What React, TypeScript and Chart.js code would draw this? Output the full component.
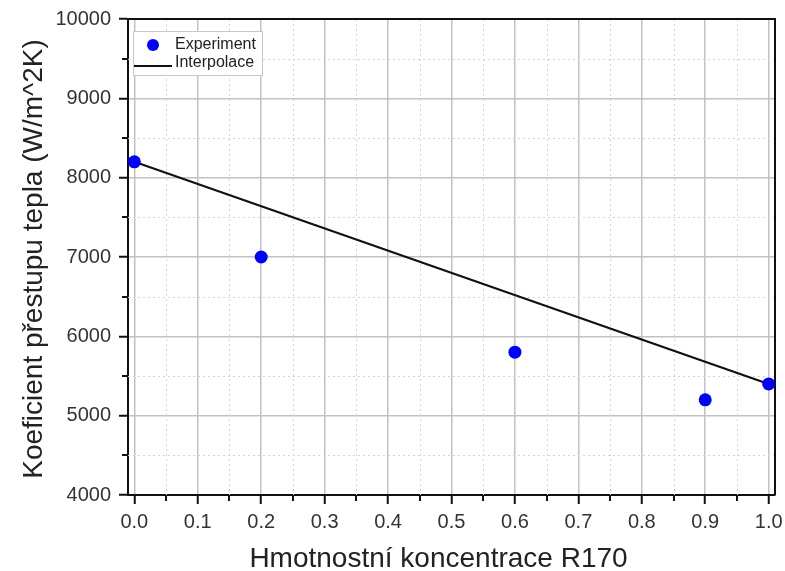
import React, { useEffect, useRef } from "react";
import { Chart, registerables } from "chart.js";

Chart.register(...registerables);

// ---- data ----
const experimentX = [0.0, 0.2, 0.6, 0.9, 1.0];
const experimentY = [8200, 7000, 5800, 5200, 5400];
const interpX = [0.0, 1.0];
const interpY = [8200, 5400];
const seriesLabels = ["Experiment", "Interpolace"];

const xMajorTicks = [0.0, 0.1, 0.2, 0.3, 0.4, 0.5, 0.6, 0.7, 0.8, 0.9, 1.0];
const xMinorTicks = [0.05, 0.15, 0.25, 0.35, 0.45, 0.55, 0.65, 0.75, 0.85, 0.95];
const yMajorTicks = [4000, 5000, 6000, 7000, 8000, 9000, 10000];
const yMinorTicks = [4500, 5500, 6500, 7500, 8500, 9500];

const xTitle = "Hmotnostní koncentrace R170";
const yTitle = "Koeficient přestupu tepla (W/m^2K)";

const FONT = '"Liberation Sans", Arial, Helvetica, sans-serif';

const minorGridPlugin = {
  id: "minorGrid",
  beforeDatasetsDraw(chart: any) {
    const { ctx, chartArea } = chart;
    const xs = chart.scales.x;
    const ys = chart.scales.y;
    ctx.save();
    // dotted minor grid lines
    ctx.strokeStyle = "#d4d4d4";
    ctx.lineWidth = 1;
    ctx.setLineDash([2, 3]);
    xMinorTicks.forEach((v) => {
      const px = Math.round(xs.getPixelForValue(v)) + 0.5;
      ctx.beginPath();
      ctx.moveTo(px, chartArea.top);
      ctx.lineTo(px, chartArea.bottom);
      ctx.stroke();
    });
    yMinorTicks.forEach((v) => {
      const py = Math.round(ys.getPixelForValue(v)) + 0.5;
      ctx.beginPath();
      ctx.moveTo(chartArea.left, py);
      ctx.lineTo(chartArea.right, py);
      ctx.stroke();
    });
    ctx.setLineDash([]);
    // minor tick marks
    ctx.strokeStyle = "#111";
    ctx.lineWidth = 2;
    xMinorTicks.forEach((v) => {
      const px = Math.round(xs.getPixelForValue(v));
      ctx.beginPath();
      ctx.moveTo(px, chartArea.bottom);
      ctx.lineTo(px, chartArea.bottom + 6);
      ctx.stroke();
    });
    yMinorTicks.forEach((v) => {
      const py = Math.round(ys.getPixelForValue(v));
      ctx.beginPath();
      ctx.moveTo(chartArea.left, py);
      ctx.lineTo(chartArea.left - 6, py);
      ctx.stroke();
    });
    // frame top & right
    ctx.beginPath();
    ctx.moveTo(chartArea.left, chartArea.top);
    ctx.lineTo(chartArea.right, chartArea.top);
    ctx.lineTo(chartArea.right, chartArea.bottom);
    ctx.stroke();
    ctx.restore();
  },
};

const legendPlugin = {
  id: "boxLegend",
  afterDatasetsDraw(chart: any) {
    const { ctx, chartArea } = chart;
    const l = chartArea.left;
    const t = chartArea.top;
    ctx.save();
    ctx.fillStyle = "#ffffff";
    ctx.fillRect(l + 5, t + 12, 129, 44);
    ctx.strokeStyle = "#c8c8c8";
    ctx.lineWidth = 1;
    ctx.strokeRect(l + 5.5, t + 12.5, 129, 44);
    ctx.fillStyle = "#0000ff";
    ctx.beginPath();
    ctx.arc(l + 25, t + 26, 6, 0, Math.PI * 2);
    ctx.fill();
    ctx.strokeStyle = "#111";
    ctx.lineWidth = 2;
    ctx.beginPath();
    ctx.moveTo(l + 6, t + 47);
    ctx.lineTo(l + 44, t + 47);
    ctx.stroke();
    ctx.fillStyle = "#222";
    ctx.font = `16px ${FONT}`;
    ctx.textAlign = "left";
    ctx.textBaseline = "middle";
    ctx.fillText(seriesLabels[0], l + 47, t + 26);
    ctx.fillText(seriesLabels[1], l + 47, t + 44);
    ctx.restore();
  },
};

const titlesPlugin = {
  id: "axisTitles",
  afterDraw(chart: any) {
    const { ctx, chartArea } = chart;
    ctx.save();
    ctx.fillStyle = "#222";
    ctx.font = `28px ${FONT}`;
    ctx.textAlign = "center";
    ctx.textBaseline = "alphabetic";
    ctx.fillText(xTitle, (chartArea.left + chartArea.right) / 2 - 13, chartArea.bottom + 72);
    ctx.translate(42, (chartArea.top + chartArea.bottom) / 2 + 2);
    ctx.rotate(-Math.PI / 2);
    ctx.fillText(yTitle, 0, 0);
    ctx.restore();
  },
};

export default function App() {
  const canvasRef = useRef<HTMLCanvasElement | null>(null);

  useEffect(() => {
    document.body.style.margin = "0";
    const canvas = canvasRef.current;
    if (!canvas) return;
    const chart = new Chart(canvas, {
      type: "scatter",
      data: {
        datasets: [
          {
            label: seriesLabels[0],
            data: experimentX.map((x, i) => ({ x, y: experimentY[i] })),
            backgroundColor: "#0000ff",
            borderColor: "#0000ff",
            borderWidth: 0,
            pointRadius: 6.5,
            showLine: false,
            clip: false,
          } as any,
          {
            label: seriesLabels[1],
            data: interpX.map((x, i) => ({ x, y: interpY[i] })),
            borderColor: "#111",
            borderWidth: 2.2,
            pointRadius: 0,
            showLine: true,
          } as any,
        ],
      },
      options: {
        animation: false,
        responsive: false,
        devicePixelRatio: 1,
        layout: { padding: { top: 19, right: 10, left: 0, bottom: 0 } },
        plugins: { legend: { display: false }, tooltip: { enabled: false } },
        scales: {
          x: {
            type: "linear",
            min: -0.01,
            max: 1.01,
            afterBuildTicks: (s: any) => {
              s.ticks = xMajorTicks.map((v) => ({ value: v }));
            },
            afterFit: (s: any) => {
              s.height = 76;
              s.paddingLeft = 0;
              s.paddingRight = 0;
            },
            ticks: {
              callback: (v: any) => Number(v).toFixed(1),
              font: { family: FONT, size: 20 },
              color: "#333",
              padding: 6,
              maxRotation: 0,
              autoSkip: false,
            },
            grid: {
              color: "#c2c2c2",
              lineWidth: 1.5,
              tickLength: 9,
              tickColor: "#111",
              tickWidth: 2,
            },
            border: { display: true, color: "#111", width: 2 },
          },
          y: {
            type: "linear",
            min: 4000,
            max: 10000,
            afterBuildTicks: (s: any) => {
              s.ticks = yMajorTicks.map((v) => ({ value: v }));
            },
            afterFit: (s: any) => {
              s.width = 128;
              s.paddingTop = 0;
              s.paddingBottom = 0;
            },
            ticks: {
              callback: (v: any) => String(v),
              font: { family: FONT, size: 20 },
              color: "#333",
              padding: 8,
              autoSkip: false,
            },
            grid: {
              color: "#c2c2c2",
              lineWidth: 1.5,
              tickLength: 9,
              tickColor: "#111",
              tickWidth: 2,
            },
            border: { display: true, color: "#111", width: 2 },
          },
        },
      } as any,
      plugins: [minorGridPlugin, legendPlugin, titlesPlugin],
    });
    return () => chart.destroy();
  }, []);

  return (
    <div style={{ width: 785, height: 571 }}>
      <canvas ref={canvasRef} width={785} height={571} />
    </div>
  );
}
